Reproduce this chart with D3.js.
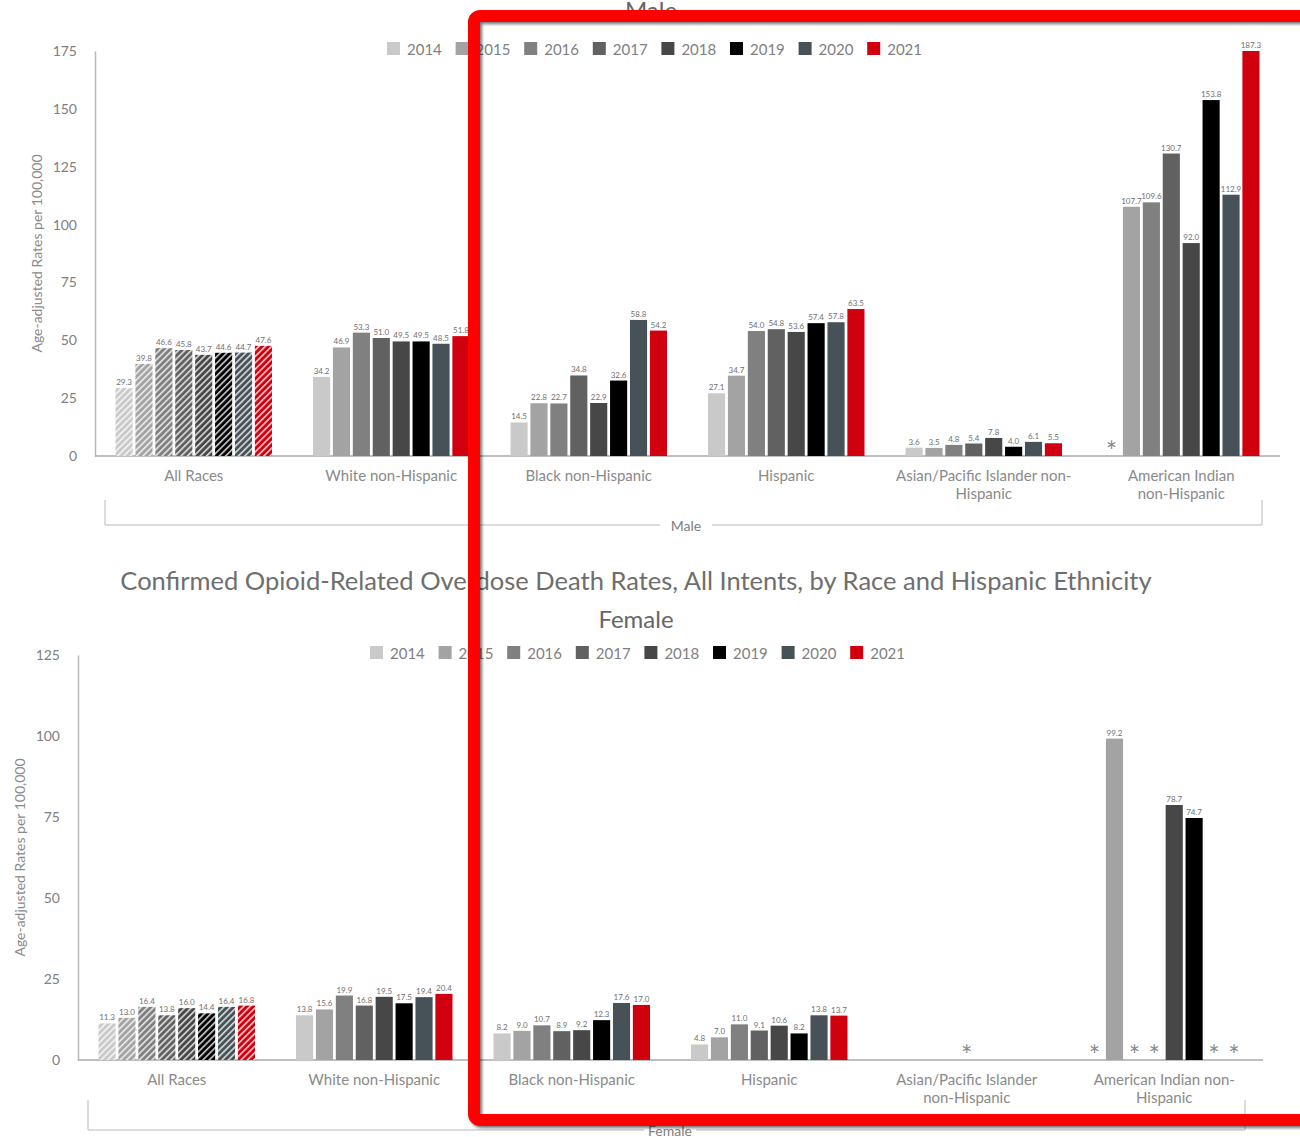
<!DOCTYPE html>
<html>
<head>
<meta charset="utf-8">
<script src="https://cdn.jsdelivr.net/npm/d3@7"></script>
<style>
  body { margin: 0; background: #ffffff; }
  svg { display: block; }
  text { font-family: Lato, "Open Sans", sans-serif; }
</style>
</head>
<body>
<svg id="chart" width="1300" height="1137"></svg>
<script>
// ---- data ----
const years = ["2014", "2015", "2016", "2017", "2018", "2019", "2020", "2021"];
const yearColors = ["#c9c9c9", "#a3a3a3", "#808080", "#616161", "#474747", "#000000", "#465258", "#d1000f"];
const groups = ["All Races", "White non-Hispanic", "Black non-Hispanic", "Hispanic",
                "Asian/Pacific Islander non-Hispanic", "American Indian non-Hispanic"];

const maleLabels = [["All Races"], ["White non-Hispanic"], ["Black non-Hispanic"], ["Hispanic"],
                    ["Asian/Pacific Islander non-", "Hispanic"], ["American Indian", "non-Hispanic"]];
const femaleLabels = [["All Races"], ["White non-Hispanic"], ["Black non-Hispanic"], ["Hispanic"],
                      ["Asian/Pacific Islander", "non-Hispanic"], ["American Indian non-", "Hispanic"]];

// Male rates per 100,000 (null = suppressed, shown as *)
const maleAllRaces = [29.3, 39.8, 46.6, 45.8, 43.7, 44.6, 44.7, 47.6];
const maleWhite    = [34.2, 46.9, 53.3, 51.0, 49.5, 49.5, 48.5, 51.8];
const maleBlack    = [14.5, 22.8, 22.7, 34.8, 22.9, 32.6, 58.8, 54.2];
const maleHispanic = [27.1, 34.7, 54.0, 54.8, 53.6, 57.4, 57.8, 63.5];
const maleAsianPI  = [3.6, 3.5, 4.8, 5.4, 7.8, 4.0, 6.1, 5.5];
const maleAmInd    = [null, 107.7, 109.6, 130.7, 92.0, 153.8, 112.9, 187.3];

// Female rates per 100,000
const femaleAllRaces = [11.3, 13.0, 16.4, 13.8, 16.0, 14.4, 16.4, 16.8];
const femaleWhite    = [13.8, 15.6, 19.9, 16.8, 19.5, 17.5, 19.4, 20.4];
const femaleBlack    = [8.2, 9.0, 10.7, 8.9, 9.2, 12.3, 17.6, 17.0];
const femaleHispanic = [4.8, 7.0, 11.0, 9.1, 10.6, 8.2, 13.8, 13.7];
const femaleAsianPI  = [null, null, null, null, null, null, null, null];
const femaleAmInd    = [null, 99.2, null, null, 78.7, 74.7, null, null];

const maleTicks = [0, 25, 50, 75, 100, 125, 150, 175];
const femaleTicks = [0, 25, 50, 75, 100, 125];

const maleSeries = [maleAllRaces, maleWhite, maleBlack, maleHispanic, maleAsianPI, maleAmInd];
const femaleSeries = [femaleAllRaces, femaleWhite, femaleBlack, femaleHispanic, femaleAsianPI, femaleAmInd];

// ---- drawing ----
const svg = d3.select("#chart");
const defs = svg.append("defs");

// diagonal hatch used for the "All Races" bars
yearColors.forEach((c, i) => {
  const p = defs.append("pattern")
    .attr("id", "hatch" + i)
    .attr("patternUnits", "userSpaceOnUse")
    .attr("width", 4.5).attr("height", 4.5)
    .attr("patternTransform", "rotate(45)");
  p.append("rect").attr("width", 4.5).attr("height", 4.5).attr("fill", c);
  p.append("line").attr("x1", 0.8).attr("y1", 0).attr("x2", 0.8).attr("y2", 4.5)
    .attr("stroke", "#ffffff").attr("stroke-width", 1.5).attr("opacity", 0.85);
});

const shadow = defs.append("filter").attr("id", "frameShadow")
  .attr("x", "-5%").attr("y", "-5%").attr("width", "110%").attr("height", "110%");
shadow.append("feDropShadow").attr("dx", 2).attr("dy", 2).attr("stdDeviation", 1.5)
  .attr("flood-color", "#000").attr("flood-opacity", 0.55);

function drawPanel(p) {
  const g = svg.append("g");
  const x0 = d3.scaleBand().domain(groups).range([p.left, p.right]);
  const x1 = d3.scaleBand().domain(years).range([20.5, x0.bandwidth() - 20.5]).paddingInner(0.14);
  const y = d3.scaleLinear().domain([0, p.max]).range([p.bottom, p.top]).clamp(true);

  // y axis
  const yAxis = g.append("g")
    .attr("transform", `translate(${p.left},0)`)
    .call(d3.axisLeft(y).tickValues(p.ticks).tickSize(0).tickPadding(18).tickFormat(d3.format("d")));
  yAxis.select(".domain").attr("stroke", "#b8b8b8").attr("stroke-width", 1.5);
  yAxis.selectAll(".tick text").attr("font-family", "Lato").attr("font-size", 14).attr("fill", "#808080");

  // y axis title
  g.append("text")
    .attr("transform", `translate(${p.yTitleX},${(p.top + p.bottom) / 2}) rotate(-90)`)
    .attr("text-anchor", "middle")
    .attr("font-size", 14).attr("fill", "#8a8a8a")
    .text("Age-adjusted Rates per 100,000");

  // baseline
  g.append("line")
    .attr("x1", p.left).attr("x2", p.right)
    .attr("y1", y(0)).attr("y2", y(0))
    .attr("stroke", "#a8a8a8").attr("stroke-width", 1.5);

  // bars per group
  groups.forEach((grp, gi) => {
    const vals = p.series[gi];
    const gg = g.append("g").attr("transform", `translate(${x0(grp)},0)`);
    const present = vals.map((v, i) => ({ v, i })).filter(d => d.v !== null);

    gg.selectAll("rect").data(present).join("rect")
      .attr("x", d => x1(years[d.i]))
      .attr("y", d => y(d.v))
      .attr("width", x1.bandwidth())
      .attr("height", d => y(0) - y(d.v))
      .attr("fill", d => gi === 0 ? `url(#hatch${d.i})` : yearColors[d.i]);

    gg.selectAll("text.val").data(present).join("text")
      .attr("class", "val")
      .attr("x", d => x1(years[d.i]) + x1.bandwidth() / 2)
      .attr("y", d => y(d.v) - 3)
      .attr("text-anchor", "middle")
      .attr("font-family", "Liberation Sans, Arial, sans-serif")
      .attr("font-size", 8).attr("fill", "#707070")
      .text(d => d.v.toFixed(1));

    // suppressed values
    const missing = vals.map((v, i) => ({ v, i })).filter(d => d.v === null);
    const starData = missing.length === vals.length
      ? [{ x: x0.bandwidth() / 2 }]
      : missing.map(d => ({ x: x1(years[d.i]) + x1.bandwidth() / 2 }));
    gg.selectAll("text.star").data(starData).join("text")
      .attr("class", "star")
      .attr("x", d => d.x)
      .attr("y", y(0) + 5)
      .attr("text-anchor", "middle")
      .attr("font-family", "Liberation Sans, Arial, sans-serif")
      .attr("font-size", 27).attr("fill", "#8a8a8a")
      .text("*");

    // category label
    const lbl = g.append("text")
      .attr("x", x0(grp) + x0.bandwidth() / 2)
      .attr("y", p.bottom + 25)
      .attr("text-anchor", "middle")
      .attr("font-size", 15).attr("fill", "#8a8a8a");
    p.labels[gi].forEach((line, li) => {
      lbl.append("tspan").attr("x", x0(grp) + x0.bandwidth() / 2).attr("dy", li === 0 ? 0 : 18).text(line);
    });
  });

  // legend
  const leg = g.append("g");
  years.forEach((yr, i) => {
    const lx = p.legendX + i * 68.6;
    leg.append("rect").attr("x", lx).attr("y", p.legendY - 7).attr("width", 13).attr("height", 13)
      .attr("fill", yearColors[i]);
    leg.append("text").attr("x", lx + 20).attr("y", p.legendY + 5.5)
      .attr("font-size", 15).attr("fill", "#808080").text(yr);
  });

  // sex bracket beneath the categories
  const b = p.bracket;
  const br = g.append("g").attr("stroke", "#d0d0d0").attr("stroke-width", 1.5).attr("fill", "none");
  br.append("line").attr("x1", b.x1).attr("x2", b.x1).attr("y1", b.yTop).attr("y2", b.y);
  br.append("line").attr("x1", b.x2).attr("x2", b.x2).attr("y1", b.yTop).attr("y2", b.y);
  br.append("line").attr("x1", b.x1).attr("x2", b.labelX - 26).attr("y1", b.y).attr("y2", b.y);
  br.append("line").attr("x1", b.labelX + 26).attr("x2", b.x2).attr("y1", b.y).attr("y2", b.y);
  g.append("text").attr("x", b.labelX).attr("y", b.y + 6)
    .attr("text-anchor", "middle").attr("font-size", 14).attr("fill", "#808080").text(p.sex);
}

// panel titles
svg.append("text").attr("x", 651).attr("y", 19).attr("text-anchor", "middle")
  .attr("font-family", "Liberation Sans, Arial, sans-serif").attr("font-size", 24).attr("fill", "#666")
  .text("Male");
svg.append("text").attr("x", 636).attr("y", 590).attr("text-anchor", "middle")
  .attr("font-size", 25.5).attr("fill", "#6e6e6e")
  .text("Confirmed Opioid-Related Overdose Death Rates, All Intents, by Race and Hispanic Ethnicity");
svg.append("text").attr("x", 636).attr("y", 628).attr("text-anchor", "middle")
  .attr("font-family", "Liberation Sans, Arial, sans-serif").attr("font-size", 24).attr("fill", "#666")
  .text("Female");

drawPanel({
  sex: "Male", series: maleSeries, labels: maleLabels, ticks: maleTicks, max: 175,
  left: 95, right: 1280, top: 51, bottom: 456, yTitleX: 42,
  legendX: 387, legendY: 49,
  bracket: { x1: 105, x2: 1262, yTop: 500, y: 525, labelX: 686 }
});

drawPanel({
  sex: "Female", series: femaleSeries, labels: femaleLabels, ticks: femaleTicks, max: 125,
  left: 78, right: 1263, top: 655, bottom: 1060, yTitleX: 25,
  legendX: 370, legendY: 653,
  bracket: { x1: 88, x2: 1245, yTop: 1100, y: 1130, labelX: 670 }
});

// highlight frame over the right-hand groups
svg.append("rect")
  .attr("x", 474).attr("y", 16)
  .attr("width", 850).attr("height", 1104)
  .attr("rx", 6).attr("ry", 6)
  .attr("fill", "none")
  .attr("stroke", "#fe0000").attr("stroke-width", 12)
  .attr("filter", "url(#frameShadow)");
</script>
</body>
</html>
